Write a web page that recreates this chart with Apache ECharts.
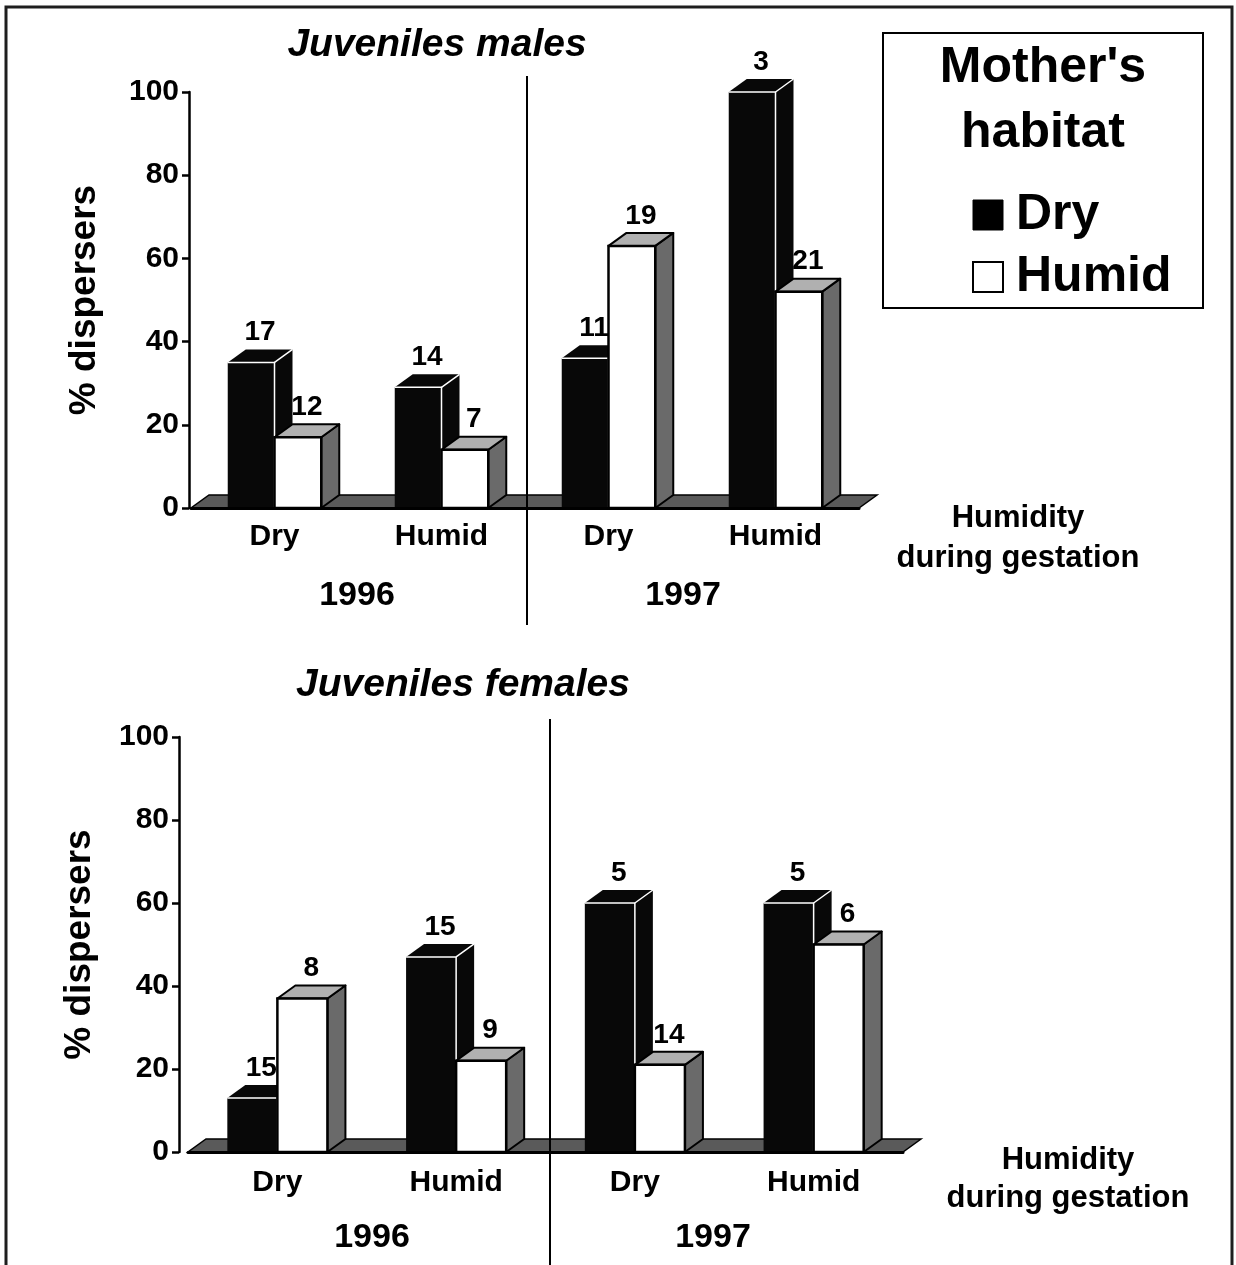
<!DOCTYPE html>
<html>
<head>
<meta charset="utf-8">
<script src="https://cdn.jsdelivr.net/npm/echarts@6/dist/echarts.min.js"></script>
<style>
  html, body { margin: 0; padding: 0; background: #fff; }
  #chart { width: 1236px; height: 1265px; }
</style>
</head>
<body>
<div id="chart"></div>
<script>
// ---------------- data ----------------
const categories = ['Dry', 'Humid', 'Dry', 'Humid'];
const years = ['1996', '1997'];
const yTickValues = [0, 20, 40, 60, 80, 100];
// % dispersers (front-face height) and sample sizes (labels)
const malesDry = [35, 29, 36, 100];
const malesHumid = [17, 14, 63, 52];
const malesDryN = [17, 14, 11, 3];
const malesHumidN = [12, 7, 19, 21];
const femalesDry = [13, 47, 60, 60];
const femalesHumid = [37, 22, 21, 50];
const femalesDryN = [15, 15, 5, 5];
const femalesHumidN = [8, 9, 14, 6];

// ---------------- styling ----------------
const FONT = '"Liberation Sans", Arial, Helvetica, sans-serif';
const DX = 18, DY = 13;

function makeData(vals, ns) {
  return vals.map((v, i) => [i, v, ns[i]]);
}

function barRenderer(sideIdx) {
  return function (params, api) {
    const c = api.value(0), v = api.value(1), n = api.value(2);
    const p0 = api.coord([c, 0]);
    const p1 = api.coord([c, v]);
    const band = api.size([1, 0])[0];
    const w = band * 0.28;
    const x0 = sideIdx === 0 ? p0[0] - w : p0[0];
    const x1 = x0 + w;
    const y0 = p0[1], y1 = p1[1];
    const front = [[x0, y0], [x1, y0], [x1, y1], [x0, y1]];
    const side = [[x1, y0], [x1 + DX, y0 - DY], [x1 + DX, y1 - DY], [x1, y1]];
    const cap = [[x0, y1], [x1, y1], [x1 + DX, y1 - DY], [x0 + DX, y1 - DY]];
    const children = [];
    if (sideIdx === 0) {
      children.push({ type: 'polygon', shape: { points: side }, style: { fill: '#080808' } });
      children.push({ type: 'polygon', shape: { points: cap }, style: { fill: '#080808' } });
      children.push({ type: 'polygon', shape: { points: front }, style: { fill: '#080808' } });
      children.push({ type: 'polyline', shape: { points: [[x0, y1], [x1, y1], [x1, y0]] }, style: { stroke: '#fff', lineWidth: 1.5, fill: null } });
      children.push({ type: 'line', shape: { x1: x1, y1: y1, x2: x1 + DX, y2: y1 - DY }, style: { stroke: '#fff', lineWidth: 1.5 } });
    } else {
      children.push({ type: 'polygon', shape: { points: side }, style: { fill: '#6a6a6a', stroke: '#000', lineWidth: 2, lineJoin: 'round' } });
      children.push({ type: 'polygon', shape: { points: cap }, style: { fill: '#b0b0b0', stroke: '#000', lineWidth: 2, lineJoin: 'round' } });
      children.push({ type: 'polygon', shape: { points: front }, style: { fill: '#fff', stroke: '#000', lineWidth: 2.5 } });
    }
    children.push({
      type: 'text',
      style: {
        text: String(n), x: x0 + (w + DX) / 2, y: y1 - DY - 3,
        fill: '#000', font: 'bold 28px ' + FONT, align: 'center', verticalAlign: 'bottom'
      }
    });
    return { type: 'group', children: children };
  };
}

function floorRenderer(params, api) {
  const cs = params.coordSys;
  const yb = cs.y + cs.height;
  const L = cs.x, R = cs.x + cs.width;
  return {
    type: 'polygon',
    shape: { points: [[L, yb], [R, yb], [R + DX, yb - DY], [L + DX, yb - DY]] },
    style: { fill: '#5a5a5a', stroke: '#000', lineWidth: 1.5 }
  };
}

function xAxisFor(gi, margin) {
  return {
    type: 'category', gridIndex: gi, data: categories, z: 10,
    axisLine: { show: true, lineStyle: { color: '#000', width: 3 } },
    axisTick: { show: false },
    axisLabel: { color: '#000', fontFamily: FONT, fontWeight: 'bold', fontSize: 30, margin: margin }
  };
}
function yAxisFor(gi, offset, nameGap) {
  return {
    type: 'value', gridIndex: gi, min: 0, max: 100, interval: 20, offset: offset,
    name: '% dispersers', nameLocation: 'middle', nameGap: nameGap, nameRotate: 90,
    nameTextStyle: { color: '#000', fontFamily: FONT, fontWeight: 'bold', fontSize: 37 },
    axisLine: { show: true, lineStyle: { color: '#000', width: 2.5 } },
    axisTick: { show: true, inside: false, length: 7, lineStyle: { color: '#000', width: 2.5 } },
    splitLine: { show: false },
    axisLabel: {
      color: '#000', fontFamily: FONT, fontWeight: 'bold', fontSize: 30, margin: 10,
      formatter: v => (yTickValues.indexOf(v) >= 0 ? String(v) : '')
    }
  };
}

function seriesFor(gi, dry, dryN, hum, humN) {
  return [
    { type: 'custom', name: 'floor' + gi, xAxisIndex: gi, yAxisIndex: gi, clip: false, silent: true,
      renderItem: floorRenderer, data: [[0, 0]] },
    { type: 'custom', name: 'Dry', xAxisIndex: gi, yAxisIndex: gi, clip: false,
      itemStyle: { color: '#000' }, renderItem: barRenderer(0), data: makeData(dry, dryN),
      encode: { x: 0, y: 1 } },
    { type: 'custom', name: 'Humid', xAxisIndex: gi, yAxisIndex: gi, clip: false,
      itemStyle: { color: '#fff', borderColor: '#000', borderWidth: 2 }, renderItem: barRenderer(1),
      data: makeData(hum, humN), encode: { x: 0, y: 1 } }
  ];
}

function txt(text, x, y, size, extra) {
  return Object.assign({
    type: 'text', z: 100,
    style: { text: text, x: x, y: y, fill: '#000', font: 'bold ' + size + 'px ' + FONT,
             align: 'center', verticalAlign: 'middle' }
  }, extra || {});
}

const graphics = [
  { type: 'rect', shape: { x: 6, y: 7, width: 1226, height: 1280 }, style: { fill: null, stroke: '#1e1e1e', lineWidth: 3 }, z: 100 },
  // titles
  { type: 'text', z: 100, style: { text: 'Juveniles males', x: 437, y: 45, fill: '#000', font: 'italic bold 39px ' + FONT, align: 'center', verticalAlign: 'middle' } },
  { type: 'text', z: 100, style: { text: 'Juveniles females', x: 463, y: 685, fill: '#000', font: 'italic bold 39px ' + FONT, align: 'center', verticalAlign: 'middle' } },
  // dividers
  { type: 'line', z: 100, shape: { x1: 527, y1: 76, x2: 527, y2: 625 }, style: { stroke: '#000', lineWidth: 2 } },
  { type: 'line', z: 100, shape: { x1: 550, y1: 719, x2: 550, y2: 1265 }, style: { stroke: '#000', lineWidth: 2 } },
  // years
  txt(years[0], 357, 596, 34), txt(years[1], 683, 596, 34),
  txt(years[0], 372, 1238, 34), txt(years[1], 713, 1238, 34),
  // x axis names
  { type: 'text', z: 100, style: { text: 'Humidity\nduring gestation', x: 1018, y: 498, fill: '#000', font: 'bold 31px ' + FONT, align: 'center', verticalAlign: 'top', lineHeight: 40 } },
  { type: 'text', z: 100, style: { text: 'Humidity\nduring gestation', x: 1068, y: 1141, fill: '#000', font: 'bold 31px ' + FONT, align: 'center', verticalAlign: 'top', lineHeight: 38 } },
  // legend box
  { type: 'rect', z: 100, shape: { x: 883, y: 33, width: 320, height: 275 }, style: { fill: null, stroke: '#000', lineWidth: 2 } },
  { type: 'text', z: 100, style: { text: "Mother's\nhabitat", x: 1043, y: 36, fill: '#000', font: 'bold 50px ' + FONT, align: 'center', verticalAlign: 'top', lineHeight: 65 } }
];

const option = {
  backgroundColor: '#fff',
  animation: false,
  grid: [
    { left: 191, top: 92, width: 668, height: 416 },
    { left: 188, top: 737, width: 715, height: 415 }
  ],
  xAxis: [xAxisFor(0, 14), xAxisFor(1, 16)],
  yAxis: [yAxisFor(0, 2, 86), yAxisFor(1, 9, 81)],
  legend: {
    orient: 'vertical', left: 972, top: 190, padding: 0, itemWidth: 30, itemHeight: 30, itemGap: 12,
    icon: 'rect', selectedMode: false,
    data: [
      { name: 'Dry', itemStyle: { color: '#000', borderColor: '#000', borderWidth: 1 } },
      { name: 'Humid', itemStyle: { color: '#fff', borderColor: '#000', borderWidth: 2 } }
    ],
    textStyle: { color: '#000', fontFamily: FONT, fontWeight: 'bold', fontSize: 50, lineHeight: 50, padding: [0, 0, 0, 8] }
  },
  graphic: graphics,
  series: [].concat(
    seriesFor(0, malesDry, malesDryN, malesHumid, malesHumidN),
    seriesFor(1, femalesDry, femalesDryN, femalesHumid, femalesHumidN)
  )
};

const chart = echarts.init(document.getElementById('chart'), null, { renderer: 'canvas' });
chart.setOption(option);
</script>
</body>
</html>
